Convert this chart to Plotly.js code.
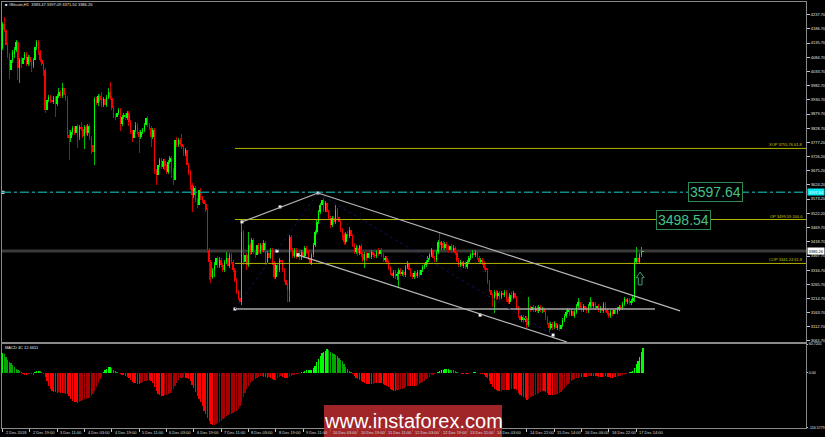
<!DOCTYPE html>
<html><head><meta charset="utf-8">
<script src="https://cdn.plot.ly/plotly-3.0.1.min.js"></script>
<style>html,body{margin:0;padding:0;background:#000;overflow:hidden}#chart{width:825px;height:437px}</style>
</head><body><div id="chart"></div>
<script>
// ---- H1 candles, bar 0 = 2 Dec 2018 03:00 ----
const openP=[
4118,4204,4183,4129,4092,4038,4074,4096,4111,4139,
4046,4074,4060,4082,4096,4060,4085,4067,4053,4074,
4121,4139,4103,4074,4060,4038,3894,3930,3941,3930,
3923,3938,3916,3945,3959,3945,3974,3948,3934,3804,
3793,3815,3829,3811,3837,3797,3833,3826,3801,3833,
3811,3837,3793,3768,3743,3934,3920,3945,3930,3912,
3934,3912,3941,3959,3938,3901,3873,3869,3883,3894,
3844,3869,3876,3865,3883,3851,3815,3793,3822,3840,
3815,3797,3815,3822,3840,3865,3840,3829,3797,3822,
3674,3660,3696,3714,3689,3710,3692,3671,3707,3721,
3678,3642,3786,3768,3786,3772,3761,3739,3750,3696,
3671,3624,3588,3613,3570,3552,3606,3577,3570,3556,
3534,3390,3346,3292,3318,3336,3361,3332,3354,3336,
3318,3346,3361,3332,3372,3346,3318,3282,3238,3217,
3202,3455,3346,3372,3336,3408,3382,3426,3382,3372,
3408,3382,3408,3390,3415,3346,3379,3361,3390,3343,
3292,3336,3318,3354,3346,3318,3282,3264,3246,3437,
3390,3368,3390,3364,3379,3361,3382,3368,3397,3382,
3361,3343,3372,3408,3455,3491,3527,3552,3570,3534,
3559,3527,3505,3480,3505,3491,3534,3509,3491,3462,
3444,3419,3447,3440,3462,3440,3408,3382,3397,3379,
3404,3375,3354,3375,3361,3379,3364,3382,3372,3368,
3382,3375,3390,3372,3354,3361,3346,3325,3307,3296,
3310,3296,3303,3318,3303,3310,3300,3328,3343,3318,
3300,3292,3307,3296,3310,3300,3318,3328,3336,3346,
3361,3372,3390,3361,3354,3382,3419,3408,3415,3397,
3411,3401,3390,3404,3390,3397,3379,3354,3336,3346,
3332,3343,3328,3346,3361,3372,3379,3372,3382,3361,
3346,3354,3343,3325,3318,3274,3246,3228,3217,3238,
3224,3235,3220,3235,3228,3238,3213,3202,3228,3220,
3235,3217,3181,3152,3137,3148,3137,3145,3119,3181,
3173,3184,3173,3181,3170,3184,3173,3177,3166,3145,
3127,3109,3123,3112,3127,3109,3116,3105,3119,3137,
3152,3166,3173,3159,3170,3152,3166,3188,3202,3181,
3173,3188,3177,3170,3188,3202,3188,3195,3181,3188,
3173,3181,3170,3195,3173,3163,3152,3166,3159,3173,
3166,3177,3184,3181,3195,3213,3202,3210,3199,3206,
3217,3346,3361,3346,3372,3383.47];
const highP=[
4211,4229,4190,4139,4100,4082,4111,4121,4147,4143,
4082,4085,4092,4103,4103,4092,4092,4074,4082,4129,
4147,4147,4111,4082,4067,4046,3941,3948,3948,3938,
3945,3945,3952,3974,3966,3992,3981,3956,3945,3822,
3822,3837,3837,3844,3844,3840,3851,3833,3840,3840,
3844,3844,3801,3775,3941,3941,3952,3952,3959,3941,
3941,3948,3974,3995,3945,3909,3880,3901,3901,3901,
3876,3883,3883,3891,3891,3858,3822,3829,3851,3847,
3822,3822,3829,3847,3876,3873,3847,3837,3829,3829,
3682,3703,3721,3721,3718,3718,3700,3714,3728,3728,
3685,3793,3797,3793,3793,3808,3768,3757,3757,3703,
3678,3631,3620,3620,3577,3613,3613,3584,3577,3563,
3541,3397,3354,3325,3346,3372,3368,3364,3361,3343,
3354,3382,3368,3379,3379,3354,3325,3289,3246,3228,
3491,3462,3390,3379,3455,3415,3433,3433,3390,3462,
3415,3415,3415,3426,3422,3386,3386,3397,3397,3350,
3343,3343,3361,3361,3354,3325,3289,3271,3444,3444,
3397,3397,3397,3386,3386,3390,3390,3404,3404,3390,
3368,3379,3415,3462,3498,3534,3559,3595,3577,3566,
3566,3534,3512,3512,3512,3552,3541,3516,3498,3469,
3451,3455,3458,3473,3469,3447,3415,3408,3404,3408,
3411,3382,3382,3382,3390,3386,3390,3390,3379,3390,
3397,3397,3397,3379,3368,3368,3354,3332,3314,3318,
3318,3310,3325,3325,3318,3318,3336,3350,3350,3325,
3307,3314,3314,3318,3318,3325,3336,3343,3354,3368,
3379,3397,3397,3368,3390,3426,3451,3422,3422,3419,
3419,3408,3411,3411,3408,3404,3386,3361,3354,3354,
3350,3350,3354,3368,3379,3390,3390,3390,3390,3368,
3361,3361,3350,3332,3325,3282,3253,3235,3246,3246,
3242,3242,3242,3242,3246,3246,3220,3235,3238,3242,
3242,3224,3188,3159,3155,3155,3152,3152,3220,3188,
3191,3191,3188,3188,3191,3191,3184,3184,3173,3152,
3134,3130,3130,3134,3134,3123,3123,3127,3145,3159,
3173,3181,3181,3177,3177,3173,3195,3217,3210,3188,
3195,3195,3184,3195,3220,3210,3202,3202,3195,3195,
3188,3188,3202,3202,3181,3170,3173,3173,3181,3181,
3184,3191,3191,3202,3220,3220,3217,3217,3213,3224,
3361,3401,3382,3379,3401,3397.09];
const lowP=[
4111,4175,4074,4082,4006,4031,4064,4082,4103,4002,
3992,4046,4053,4074,4053,4053,4056,4031,4046,4067,
4111,4092,4067,4053,4017,3883,3883,3923,3920,3912,
3916,3869,3909,3938,3938,3938,3941,3927,3793,3714,
3779,3804,3804,3804,3757,3786,3819,3793,3754,3804,
3801,3786,3736,3732,3696,3912,3909,3923,3905,3905,
3901,3905,3934,3930,3894,3865,3858,3862,3876,3819,
3837,3862,3858,3858,3837,3808,3779,3786,3815,3808,
3739,3790,3808,3815,3833,3833,3822,3761,3790,3664,
3624,3653,3689,3682,3682,3678,3664,3664,3700,3649,
3624,3624,3761,3761,3765,3754,3728,3728,3689,3660,
3606,3527,3577,3563,3541,3527,3570,3559,3548,3527,
3379,3282,3271,3285,3292,3325,3325,3325,3328,3310,
3310,3339,3325,3325,3339,3310,3274,3231,3210,3177,
3191,3336,3292,3318,3328,3372,3375,3375,3361,3364,
3375,3375,3382,3382,3336,3339,3354,3354,3336,3285,
3285,3310,3310,3339,3310,3274,3238,3202,3202,3382,
3361,3361,3357,3357,3354,3354,3361,3361,3375,3354,
3336,3336,3364,3401,3447,3483,3519,3545,3527,3527,
3519,3498,3469,3473,3483,3483,3501,3480,3455,3426,
3408,3411,3433,3433,3433,3401,3375,3375,3368,3372,
3364,3346,3325,3350,3354,3357,3357,3364,3361,3361,
3368,3368,3364,3346,3346,3339,3318,3300,3289,3289,
3285,3282,3256,3296,3296,3292,3292,3321,3310,3292,
3285,3285,3289,3289,3292,3292,3310,3321,3328,3339,
3354,3364,3354,3346,3346,3375,3397,3390,3390,3390,
3390,3379,3382,3379,3382,3372,3346,3328,3328,3325,
3325,3321,3321,3339,3354,3361,3364,3364,3354,3339,
3339,3336,3318,3310,3267,3238,3217,3184,3163,3210,
3213,3210,3213,3217,3220,3202,3195,3195,3210,3213,
3210,3173,3145,3130,3130,3127,3130,3109,3112,3166,
3166,3166,3166,3163,3163,3166,3163,3159,3137,3119,
3091,3101,3101,3105,3101,3101,3098,3098,3112,3130,
3145,3159,3152,3152,3145,3145,3159,3181,3173,3166,
3166,3170,3163,3163,3181,3181,3181,3173,3173,3166,
3163,3163,3163,3166,3155,3145,3145,3152,3152,3159,
3159,3170,3173,3173,3188,3195,3195,3191,3191,3199,
3202,3339,3339,3339,3364,3371.50];
const closeP=[
4204,4183,4129,4092,4038,4074,4103,4111,4139,4046,
4074,4060,4082,4096,4060,4085,4067,4053,4074,4121,
4139,4103,4074,4060,4038,3894,3930,3941,3930,3923,
3938,3916,3945,3959,3945,3974,3948,3934,3804,3793,
3815,3829,3811,3837,3797,3833,3826,3801,3833,3811,
3837,3793,3768,3743,3934,3920,3945,3930,3912,3934,
3912,3941,3959,3938,3901,3873,3869,3883,3894,3844,
3869,3876,3865,3883,3851,3815,3793,3822,3840,3815,
3797,3815,3822,3840,3865,3840,3829,3797,3822,3674,
3660,3696,3714,3689,3710,3692,3671,3707,3721,3678,
3642,3786,3768,3786,3772,3761,3739,3750,3696,3671,
3624,3588,3613,3570,3552,3606,3577,3570,3556,3534,
3390,3346,3292,3318,3336,3361,3332,3354,3336,3318,
3346,3361,3332,3372,3346,3318,3282,3238,3217,3202,
3455,3346,3372,3336,3408,3382,3426,3382,3372,3408,
3382,3408,3390,3415,3346,3379,3361,3390,3343,3292,
3336,3318,3354,3346,3318,3282,3264,3246,3437,3390,
3368,3390,3364,3379,3361,3382,3368,3397,3382,3361,
3343,3372,3408,3455,3491,3527,3552,3570,3534,3559,
3527,3505,3480,3505,3491,3534,3509,3491,3462,3444,
3419,3447,3440,3462,3440,3408,3382,3397,3379,3404,
3375,3354,3375,3361,3379,3364,3382,3372,3368,3382,
3375,3390,3372,3354,3361,3346,3325,3307,3296,3310,
3296,3303,3318,3303,3310,3300,3328,3343,3318,3300,
3292,3307,3296,3310,3300,3318,3328,3336,3346,3361,
3372,3390,3361,3354,3382,3419,3408,3415,3397,3411,
3401,3390,3404,3390,3397,3379,3354,3336,3346,3332,
3343,3328,3346,3361,3372,3379,3372,3382,3361,3346,
3354,3343,3325,3318,3274,3246,3228,3217,3238,3224,
3235,3220,3235,3228,3238,3213,3202,3228,3220,3235,
3217,3181,3152,3137,3148,3137,3145,3119,3181,3173,
3184,3173,3181,3170,3184,3173,3177,3166,3145,3127,
3109,3123,3112,3127,3109,3116,3105,3119,3137,3152,
3166,3173,3159,3170,3152,3166,3188,3202,3181,3173,
3188,3177,3170,3188,3202,3188,3195,3181,3188,3173,
3181,3170,3195,3173,3163,3152,3166,3159,3173,3166,
3177,3184,3181,3195,3213,3202,3210,3199,3206,3217,
3346,3361,3346,3372,3383.47,3386.26];
// ---- MACD 4C histogram ----
const macdHist=[
42,40,33,27,22,20,16,12,8,5,
3,1,-2,-4,-5,-3,-2,-3,-5,1,
3,4,3,1,-2,-8,-18,-28,-35,-39,
-40,-41,-42,-41,-42,-43,-42,-44,-45,-50,
-56,-60,-62,-62,-63,-62,-60,-58,-56,-55,
-54,-52,-50,-45,-38,-30,-22,-14,-6,2,
5,9,12,12,10,7,4,2,-1,-3,
-4,-5,-6,-8,-12,-16,-20,-22,-22,-23,
-24,-22,-20,-18,-17,-16,-16,-18,-22,-30,
-38,-44,-47,-48,-48,-47,-46,-45,-42,-38,
-34,-28,-22,-16,-12,-10,-9,-10,-12,-14,
-18,-25,-32,-40,-48,-55,-62,-70,-80,-88,
-96,-102,-108,-111,-110,-108,-106,-104,-101,-98,
-95,-92,-90,-88,-86,-84,-82,-80,-76,-70,
-62,-52,-42,-34,-27,-22,-18,-15,-13,-10,
-8,-7,-6,-8,-9,-10,-8,-10,-14,-16,
-15,-12,-8,-6,-9,-10,-11,-12,-8,-6,
-5,-4,-3,-2,-1,1,2,3,5,6,
6,7,10,15,22,30,36,42,45,47,
50,48,45,42,40,38,35,32,28,24,
18,12,8,4,1,-3,-7,-10,-13,-15,
-18,-20,-22,-23,-24,-24,-24,-23,-22,-22,
-21,-21,-22,-24,-26,-28,-31,-34,-37,-38,
-38,-37,-36,-35,-34,-32,-30,-28,-27,-27,
-28,-28,-27,-26,-24,-22,-20,-17,-14,-11,
-8,-5,-4,-3,-1,2,4,6,7,8,
8,8,7,6,5,4,2,0,-1,-2,
-3,-3,-3,-2,-1,0,1,1,0,-1,
-2,-3,-5,-8,-12,-18,-24,-30,-34,-37,
-38,-39,-38,-37,-36,-36,-37,-36,-35,-34,
-34,-37,-42,-47,-50,-52,-54,-57,-55,-52,
-50,-48,-46,-44,-42,-40,-38,-38,-40,-43,
-46,-47,-47,-46,-45,-44,-42,-40,-36,-32,
-28,-24,-21,-18,-16,-14,-12,-10,-9,-9,
-8,-8,-8,-7,-6,-6,-6,-7,-7,-8,
-8,-8,-7,-7,-8,-9,-10,-10,-9,-9,
-8,-7,-6,-5,-3,-2,-1,1,2,3,
10,18,26,34,43,52];
// ---- axis labels ----
const timeLabels=["2 Dec 2018","2 Dec 19:00","3 Dec 11:00","4 Dec 03:00","4 Dec 19:00","5 Dec 11:00","6 Dec 03:00","6 Dec 19:00","7 Dec 11:00","8 Dec 03:00","8 Dec 19:00","9 Dec 11:00","10 Dec 03:00","10 Dec 19:00","11 Dec 11:00","12 Dec 03:00","12 Dec 19:00","13 Dec 11:00","14 Dec 03:00","14 Dec 22:00","15 Dec 14:00","16 Dec 06:00","16 Dec 22:00","17 Dec 14:00"];
const timeLabelBars=[0,16,32,48,64,80,96,112,128,144,160,176,192,208,224,240,256,272,288,307,323,339,355,371];
const priceTicks=[4237.70,4186.70,4135.70,4084.70,4033.70,3982.70,3930.70,3879.70,3828.70,3777.20,3726.20,3675.20,3624.20,3573.20,3522.20,3469.70,3418.70,3367.70,3316.70,3265.70,3214.70,3163.70,3112.70,3061.70];
const macdTicks=[60.7201,0,-116.5779];
const macdTickText=["60.7201","0.00","-116.5779"];
const symbolName="#Bitcoin,H1";
const lastOHLC=[3383.47,3397.09,3371.50,3386.26];
const macdLabel="MACD 4C 12.6611";
// ---- drawn objects (levels & tool anchors: [bar, price]) ----
const fibLevels=[{name:"XOP",price:3755.76,pct:"61.8"},{name:"OP",price:3499.59,pct:"100.0"},{name:"COP",price:3341.24,pct:"61.8"}];
const cyanLevel=3597.64;
const bigLabels=[{text:"3597.64",bar:417.7,price:3597},{text:"3498.54",bar:398.7,price:3498}];
const ptA=[136.1,3177], ptP1=[140.2,3491], ptP2=[162.5,3545], ptB=[184.7,3595], ptM=[160.7,3386],
      ptD=[173.0,3372], ptE=[279.6,3155], ptC=[322.3,3083];
const upperEnd=[396.7,3170], lowerEnd=[330.5,3058], hEnd=[382.0,3177];
const arrowAt=[373.3,3310,3290,3264];

const XR=[-0.3,470.4];
const PX=px=>(px-2)/804, PY=py=>(428-py)/426;
const idx=closeP.map((_,i)=>i);
const up=closeP.map((c,i)=>c>=openP[i]);

const wick={type:'bar',x:idx,base:lowP,y:highP.map((h,i)=>h-lowP[i]),width:0.5,
  marker:{color:up.map(u=>u?'#00c000':'#c80000'),line:{width:0}},xaxis:'x',yaxis:'y',hoverinfo:'skip'};
const body={type:'bar',x:idx,base:openP.map((o,i)=>Math.min(o,closeP[i])),
  y:openP.map((o,i)=>Math.max(Math.abs(closeP[i]-o),2.5)),width:0.85,
  marker:{color:up.map(u=>u?'#00ff00':'#ff0000'),line:{width:0}},xaxis:'x',yaxis:'y',hoverinfo:'skip'};
const mcol=macdHist.map((v,i)=>{const p=i?macdHist[i-1]:v; if(v>=0) return v>=p?'#00ff00':'#00a800'; return v<=p?'#ff0000':'#a80000';});
const macd={type:'bar',x:idx,y:macdHist,width:0.75,marker:{color:mcol,line:{width:0}},xaxis:'x2',yaxis:'y2',hoverinfo:'skip'};
const anchors=[ptA,ptP1,ptP2,ptB,ptM,ptD,ptE,ptC,[0.3,cyanLevel]];
const dots={type:'scatter',mode:'markers',x:anchors.map(p=>p[0]),y:anchors.map(p=>p[1]),
  marker:{symbol:'square',size:3,color:'#ffffff'},xaxis:'x',yaxis:'y',hoverinfo:'skip'};

const ln=(a,b,color,w,dash)=>({type:'line',xref:'x',yref:'y',x0:a[0],y0:a[1],x1:b[0],y1:b[1],line:{color:color,width:w,dash:dash||'solid'}});
const shapes=[
  {type:'line',xref:'paper',yref:'y',x0:0,x1:1,y0:lastOHLC[3],y1:lastOHLC[3],line:{color:'#3a3a3a',width:3},layer:'below'},
  {type:'line',xref:'paper',yref:'y',x0:0,x1:1,y0:cyanLevel,y1:cyanLevel,line:{color:'#0f8c8c',width:1.5,dash:'dashdot'}},
  ...fibLevels.map(f=>({type:'line',xref:'x',yref:'y',x0:ptA[0],x1:XR[1],y0:f.price,y1:f.price,line:{color:'#b4b400',width:1}})),
  ln(ptA,hEnd,'#a8a8a8',1.5),
  ln(ptA,ptB,'#12125a',1,'dot'),
  ln(ptB,ptC,'#12125a',1,'dot'),
  ln(ptP1,ptB,'#b8b8b8',1.2),
  ln(ptB,upperEnd,'#b8b8b8',1.2),
  ln(ptD,lowerEnd,'#b8b8b8',1.2),
  {type:'path',xref:'x',yref:'y',path:`M ${arrowAt[0]},${arrowAt[1]} L ${arrowAt[0]+2.3},${arrowAt[2]} L ${arrowAt[0]+1.1},${arrowAt[2]} L ${arrowAt[0]+1.1},${arrowAt[3]} L ${arrowAt[0]-1.1},${arrowAt[3]} L ${arrowAt[0]-1.1},${arrowAt[2]} L ${arrowAt[0]-2.3},${arrowAt[2]} Z`,
    line:{color:'#3aa070',width:1},fillcolor:'rgba(0,0,0,0)'},
  {type:'rect',xref:'paper',yref:'paper',x0:PX(324),x1:PX(502),y0:PY(438),y1:PY(405),fillcolor:'rgba(182,42,46,0.88)',line:{width:0},layer:'above'}
];

const tiny={size:4,color:'#e6e6e6',family:'Liberation Sans, Arial, sans-serif'};
const tinier={size:3.6,color:'#e6e6e6',family:'Liberation Sans, Arial, sans-serif'};
const annotations=[
  {xref:'paper',yref:'paper',x:PX(3),y:PY(4.5),xanchor:'left',yanchor:'middle',showarrow:false,
   text:'\u25A0 '+symbolName+'  '+lastOHLC.map(v=>v.toFixed(2)).join(' '),font:tiny},
  {xref:'paper',yref:'paper',x:PX(3),y:PY(347.5),xanchor:'left',yanchor:'middle',showarrow:false,text:macdLabel,font:tiny},
  ...timeLabels.map((t,k)=>({xref:'x2',yref:'paper',x:timeLabelBars[k],xshift:1,y:PY(432.5),xanchor:'left',yanchor:'middle',showarrow:false,text:t,font:{size:4,color:'#dcdcdc',family:'Liberation Sans, Arial, sans-serif'}})),
  ...fibLevels.map(f=>({xref:'paper',yref:'y',x:1,xshift:-1,y:f.price,yanchor:'bottom',xanchor:'right',showarrow:false,yshift:-1,
    text:f.name+' '+f.price.toFixed(2)+' '+f.pct,font:{size:4,color:'#c8c800',family:'Liberation Sans, Arial, sans-serif'}})),
  {xref:'paper',yref:'y',x:1,xanchor:'left',xshift:1,y:lastOHLC[3],yanchor:'middle',showarrow:false,text:lastOHLC[3].toFixed(2),
   bgcolor:'#ffffff',borderpad:0.5,font:{size:4,color:'#000000',family:'Liberation Sans, Arial, sans-serif'}},
  {xref:'paper',yref:'y',x:1,xanchor:'left',xshift:1,y:cyanLevel,yanchor:'middle',showarrow:false,text:cyanLevel.toFixed(2),
   bgcolor:'#00e8f0',borderpad:0.5,font:{size:4,color:'#ffffff',family:'Liberation Sans, Arial, sans-serif'}},
  ...bigLabels.map(b=>({xref:'x',yref:'y',x:b.bar,y:b.price,xanchor:'center',yanchor:'middle',showarrow:false,text:b.text,
    bgcolor:'#000000',bordercolor:'#2e8b57',borderwidth:1,borderpad:1,font:{size:14,color:'#45c08a',family:'Liberation Sans, Arial, sans-serif'}})),
  {xref:'paper',yref:'paper',x:PX(413),y:PY(421),xanchor:'center',yanchor:'middle',showarrow:false,text:'www.instaforex.com',
   font:{size:20,color:'#ffffff',family:'Liberation Sans, Arial, sans-serif'}}
];

const axBase={showgrid:false,zeroline:false,showline:true,mirror:true,linecolor:'#8a8a8a',linewidth:1};
const layout={
  width:825,height:437,margin:{l:2,r:19,t:2,b:9,pad:0},
  paper_bgcolor:'#000000',plot_bgcolor:'#000000',showlegend:false,barmode:'overlay',bargap:0,
  font:{family:'Liberation Sans, Arial, sans-serif',color:'#e6e6e6',size:4},
  xaxis:Object.assign({},axBase,{domain:[0,1],range:XR,anchor:'y',showticklabels:false,ticks:''}),
  yaxis:Object.assign({},axBase,{domain:[0.2019,1],range:[3058.1,4283.5],side:'right',anchor:'x',
    tickvals:priceTicks,ticktext:priceTicks.map(v=>v.toFixed(2)),ticks:'outside',ticklen:3,tickcolor:'#c8c8c8',
    tickfont:tiny,automargin:false}),
  xaxis2:Object.assign({},axBase,{domain:[0,1],range:XR,anchor:'y2',tickvals:timeLabelBars,ticks:'outside',ticklen:3,
    tickcolor:'#c8c8c8',showticklabels:false}),
  yaxis2:Object.assign({},axBase,{domain:[0,0.197],range:[-116.58,60.72],side:'right',anchor:'x2',
    tickvals:macdTicks,ticktext:macdTickText,ticks:'outside',ticklen:1,tickcolor:'#c8c8c8',tickfont:tinier,automargin:false}),
  shapes:shapes,annotations:annotations
};
Plotly.newPlot('chart',[wick,body,macd,dots],layout,{displayModeBar:false,staticPlot:true});
</script></body></html>
